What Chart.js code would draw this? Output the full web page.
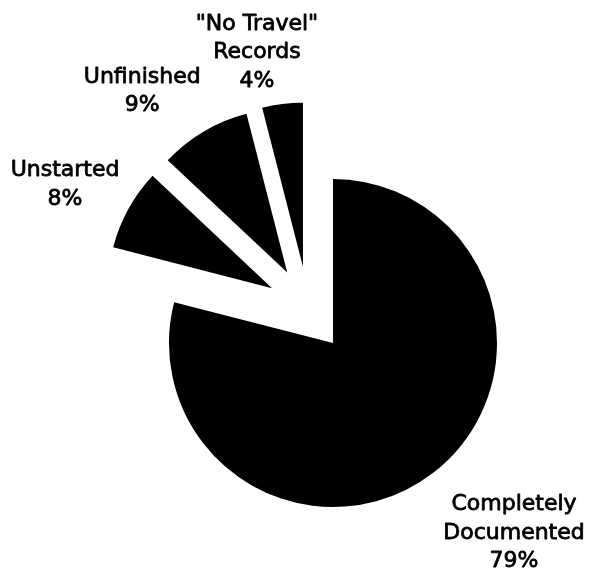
<!DOCTYPE html>
<html>
<head>
<meta charset="utf-8">
<script src="https://cdn.jsdelivr.net/npm/chart.js@4.4.0/dist/chart.umd.min.js"></script>
<style>
  html, body { margin: 0; padding: 0; background: #fff; }
  canvas { display: block; }
</style>
</head>
<body>
<canvas id="travelChart" width="590" height="571"></canvas>
<script>
var categories = [['Completely', 'Documented'], ['Unstarted'], ['Unfinished'], ['"No Travel"', 'Records']]
var percents = [79, 8, 9, 4]

// how far each wedge is pulled out, and which way (degrees clockwise from 12 o'clock)
var pullDist = [0, 82, 84, 82]
var pullAngle = [0, 312, 327, 338.5]

// first baseline of each label, measured from its wedge's point
var labelShift = [[181, 167], [-207, -112], [-145, -190], [-46, -237]]
var lineHeight = 28.5

function pullOf(i) {
    var a = pullAngle[i] * Math.PI / 180
    return [Math.sin(a) * pullDist[i], -Math.cos(a) * pullDist[i]]
}

// draw the arcs ourselves so each one can be shifted out on its own
var explode = {
    id: 'explode',
    beforeDatasetDraw: function (chart, args) {
        var ctx = chart.ctx
        args.meta.data.forEach(function (arc, i) {
            var p = pullOf(i)
            ctx.save()
            ctx.translate(p[0], p[1])
            arc.draw(ctx)
            ctx.restore()
        })
        return false
    },
    afterDatasetsDraw: function (chart) {
        var ctx = chart.ctx
        ctx.save()
        ctx.font = '22px "DejaVu Sans"'
        ctx.fillStyle = '#000'
        ctx.strokeStyle = '#000'
        ctx.lineWidth = 0.8
        ctx.lineJoin = 'round'
        ctx.textAlign = 'center'
        ctx.textBaseline = 'alphabetic'
        chart.getDatasetMeta(0).data.forEach(function (arc, i) {
            var p = pullOf(i)
            var x = arc.x + p[0] + labelShift[i][0]
            var y = arc.y + p[1] + labelShift[i][1]
            var lines = categories[i].concat([percents[i] + '%'])
            lines.forEach(function (line, j) {
                ctx.fillText(line, x, y + j * lineHeight)
                ctx.strokeText(line, x, y + j * lineHeight)
            })
        })
        ctx.restore()
    }
}

var travelChart = new Chart(document.getElementById('travelChart'), {
    type: 'pie',
    data: {
        labels: categories,
        datasets: [{
            data: percents,
            backgroundColor: '#000',
            borderWidth: 0,
            radius: 164
        }]
    },
    options: {
        responsive: false,
        animation: false,
        rotation: 0,
        layout: { padding: { left: 76, top: 115 } },
        plugins: {
            legend: { display: false },
            tooltip: { enabled: false }
        }
    },
    plugins: [explode]
});
</script>
</body>
</html>
